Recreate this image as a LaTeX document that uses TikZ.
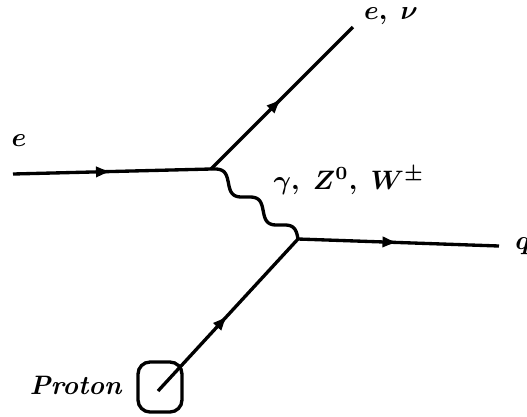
\documentclass[tikz,border=0pt]{standalone}
\usepackage{tikz}
\usetikzlibrary{arrows.meta, decorations.markings}
\usepackage{amsmath}
\usepackage{bm}

\begin{document}
\begin{tikzpicture}[x=0.375pt, y=-0.375pt,
      fermion/.style={line width=1.25pt, postaction={decorate},
                      decoration={markings, mark=at position 0.5 with {\arrow{Latex[length=6pt, width=4.4pt]}}}},
      boson/.style={line width=1.25pt, line join=round},
      blob/.style={draw, line width=1.25pt, rounded corners=4.5pt,
                   minimum width=16.5pt, minimum height=18.75pt, inner sep=0pt},
      lbl/.style={inner sep=0pt}
    ]
    \useasboundingbox (0,0) rectangle (527,416);

    % Vertices and ends
    \coordinate (v1)   at (211,169);
    \coordinate (v2)   at (298,239);
    \coordinate (ein)  at (13,174);
    \coordinate (eout) at (353,27);
    \coordinate (qout) at (499,246);
    \node[blob] (proton) at (160,387) {};
    \coordinate (parton) at (158,391);

    % Lines
    \draw[fermion] (ein)    -- (v1);
    \draw[fermion] (v1)     -- (eout);
    \draw[fermion] (parton) -- (v2);
    \draw[fermion] (v2)     -- (qout);
    % exchanged boson from v1 to v2, 2.5 waves
    \begin{scope}[shift={(v1)}, rotate=-38.8]
      \draw[boson] plot[domain=0:111.7, samples=90, smooth] (\x, {-6*sin(8.0573*\x)});
    \end{scope}

    % Labels
    \node[lbl] (elbl)   at (19,141)  {$\bm{e}$};
    \node[lbl] (outlbl) at (391,16)  {$\bm{e,\ \nu}$};
    \node[lbl] (exlbl)  at (349,181) {$\bm{\gamma,\ Z^0,\ W^\pm}$};
    \node[lbl] (qlbl)   at (523,246) {$\bm{q}$};
    \node[lbl] (plbl)   at (76,385)  {\textbf{\textit{Proton}}};
  \end{tikzpicture}
\end{document}
